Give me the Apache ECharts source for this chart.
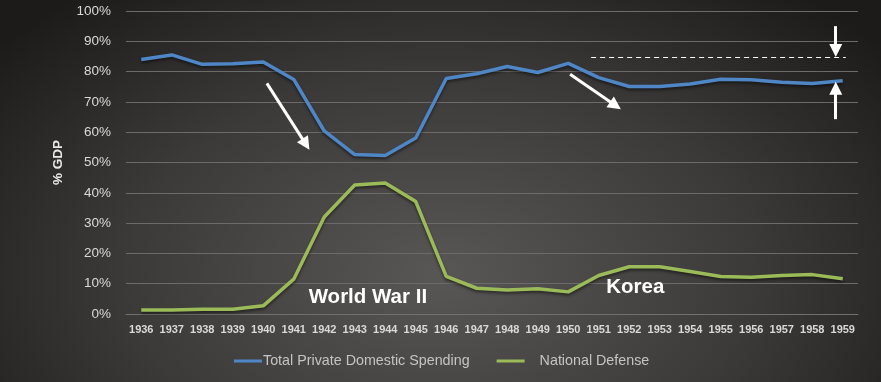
<!DOCTYPE html>
<html>
<head>
<meta charset="utf-8">
<script src="https://cdn.jsdelivr.net/npm/echarts@6/dist/echarts.min.js"></script>
<style>
html,body{margin:0;padding:0;}
#chart{width:881px;height:382px;background:radial-gradient(ellipse 65% 95% at 50% 72%, #595755 0%, #3c3a39 55%, #1c1b1a 100%);}
</style>
</head>
<body>
<div id="chart"></div>
<script>
const years = ['1936','1937','1938','1939','1940','1941','1942','1943','1944','1945','1946','1947','1948','1949','1950','1951','1952','1953','1954','1955','1956','1957','1958','1959'];
const privateSpending = [84.0,85.5,82.4,82.6,83.2,77.4,60.4,52.6,52.3,58.1,77.7,79.3,81.7,79.7,82.7,78.0,75.1,75.1,75.9,77.5,77.3,76.5,76.1,77.0];
const nationalDefense = [1.3,1.3,1.6,1.6,2.7,11.5,32.0,42.6,43.2,37.1,12.4,8.5,7.9,8.3,7.3,12.7,15.6,15.6,14.0,12.4,12.1,12.7,13.0,11.6];
const yTicks = [0,10,20,30,40,50,60,70,80,90,100];
const seriesNames = ['Total Private Domestic Spending','National Defense'];
// annotations in data space: [category index, percent]
const arrows = [
  [[4.12,76.1],[5.40,56.0]],
  [[14.06,79.1],[15.55,68.8]],
  [[22.77,95.0],[22.77,87.0]],
  [[22.77,64.3],[22.77,74.5]]
];
const dashedRef = [[14.75,84.6],[23.1,84.6]];
const notes = [['World War II',7.43,5.5],['Korea',16.2,8.9]];

const chart = echarts.init(document.getElementById('chart'), null, {renderer:'canvas'});
const labelColor = '#d9d9d9';
const ff = 'Liberation Sans, Arial, sans-serif';
chart.setOption({
  backgroundColor: 'transparent',
  animation: false,
  grid: {left:126, right:23, top:11, bottom:68, containLabel:false},
  legend: {
    data: [
      {name:seriesNames[0], textStyle:{padding:[0,0,0,-4]}},
      {name:seriesNames[1], textStyle:{padding:[0,0,0,10]}}
    ],
    bottom: 9,
    left: 229,
    icon: 'rect',
    itemWidth: 28,
    itemHeight: 3,
    itemGap: 27,
    textStyle: {color:'#c4c4c4', fontSize:14.3, fontFamily:ff}
  },
  xAxis: [{
    type: 'category',
    data: years,
    boundaryGap: true,
    axisLine: {show:true, lineStyle:{color:'#707070', width:1}},
    axisTick: {show:false},
    axisLabel: {color:labelColor, fontSize:11, fontWeight:'bold', fontFamily:ff, margin:10, interval:0}
  },{
    type: 'value', min:-0.5, max:23.5, show:false
  }],
  yAxis: {
    type: 'value', min:0, max:100, interval:10,
    name: '% GDP', nameLocation:'middle', nameGap:55, nameRotate:90,
    nameTextStyle: {color:'#e8e8e8', fontSize:13.5, fontWeight:'bold', fontFamily:ff},
    axisLine: {show:false}, axisTick: {show:false},
    splitLine: {lineStyle:{color:'#6b6b6b', width:1}},
    axisLabel: {color:labelColor, fontSize:13.5, fontFamily:ff, margin:15, formatter: v => yTicks.indexOf(v) >= 0 ? v + '%' : ''}
  },
  series: [
    {name:seriesNames[0], type:'line', data:privateSpending, symbol:'none', smooth:false,
     lineStyle:{color:'#4f86c6', width:3.5, shadowColor:'rgba(0,0,0,0.5)', shadowBlur:3, shadowOffsetY:2},
     itemStyle:{color:'#4f86c6'}},
    {name:seriesNames[1], type:'line', data:nationalDefense, symbol:'none',
     lineStyle:{color:'#9bbb59', width:3.5, shadowColor:'rgba(0,0,0,0.5)', shadowBlur:3, shadowOffsetY:2},
     itemStyle:{color:'#9bbb59'}},
    {name:'annot', type:'line', xAxisIndex:1, data:[], silent:true,
     markLine: {
       silent:true, animation:false,
       symbol:['none','triangle'], symbolSize:[13,13],
       label:{show:false},
       lineStyle:{color:'#ffffff', width:3, type:'solid'},
       emphasis:{disabled:true},
       data: arrows.map(a => [{coord:a[0]},{coord:a[1]}]).concat([
         [{coord:dashedRef[0], symbol:'none', lineStyle:{width:1.2, type:[5,4], color:'#ffffff'}},
          {coord:dashedRef[1], symbol:'none'}]
       ])
     },
     markPoint: {
       silent:true, symbol:'circle', symbolSize:0,
       label:{show:true, position:'inside', color:'#ffffff', fontSize:20.5, fontWeight:'bold', fontFamily:ff},
       data: notes.map(n => ({coord:[n[1],n[2]], value:n[0], label:{formatter:n[0]}}))
     }
    }
  ]
});
</script>
</body>
</html>
